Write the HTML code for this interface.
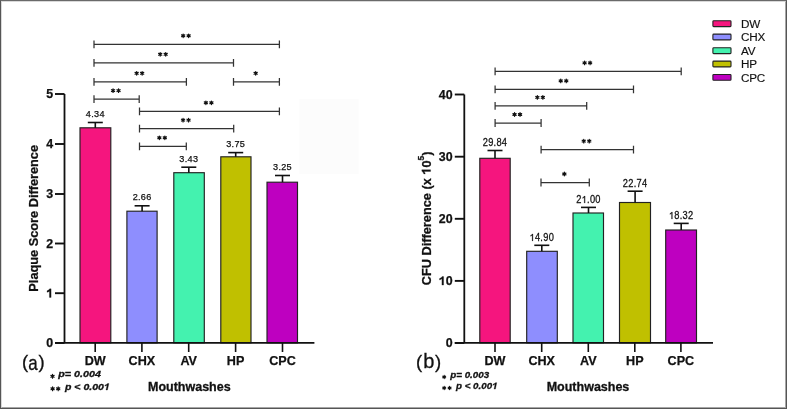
<!DOCTYPE html><html><head><meta charset="utf-8"><style>
html,body{margin:0;padding:0;background:#fff;}
body{width:787px;height:409px;overflow:hidden;position:relative;}
svg{position:absolute;left:0;top:0;display:block;will-change:transform;}
text{font-family:"Liberation Sans",sans-serif;fill:#111;}
.tk{font-weight:bold;font-size:12.4px;stroke:#111;stroke-width:0.25px;}
.val{font-size:9.1px;letter-spacing:0.3px;fill:#111;stroke:#111;stroke-width:0.25px;}
.xl{font-weight:bold;font-size:12.6px;stroke:#111;stroke-width:0.25px;}
.st{font-weight:bold;font-size:11.5px;letter-spacing:0.9px;stroke:#111;stroke-width:0.6px;stroke-linejoin:round;}
.yt{font-weight:bold;font-size:12.75px;stroke:#111;stroke-width:0.25px;}
.ml{font-weight:bold;font-size:12.5px;stroke:#111;stroke-width:0.3px;}
.pv{font-weight:bold;font-style:italic;font-size:9.4px;stroke:#111;stroke-width:0.3px;}
.pvs{font-weight:bold;font-size:11px;stroke:#111;stroke-width:0.4px;}
.lab{font-size:18.5px;stroke:#111;stroke-width:0.3px;}
.labl{font-size:20px;stroke:#111;stroke-width:0.3px;}
.lg{font-size:11.7px;letter-spacing:-0.25px;stroke:#111;stroke-width:0.15px;}
</style></head><body>
<svg width="787" height="409" viewBox="0 0 787 409">
<rect x="0" y="0" width="787" height="409" fill="#fff"/>
<rect x="299.5" y="98.8" width="59" height="75.4" fill="#fcfcfc"/>
<rect x="80.00" y="127.80" width="30.80" height="215.00" fill="#F5157E" stroke="#222" stroke-width="1.15"/>
<line x1="95.3" y1="122.5" x2="95.3" y2="127.8" stroke="#111" stroke-width="1.6"/>
<line x1="87.8" y1="122.5" x2="102.8" y2="122.5" stroke="#111" stroke-width="1.6"/>
<text transform="translate(95.3,117.10) scale(1.0,1)" class="val" style="font-size:9.1px" text-anchor="middle">4.34</text>
<rect x="126.90" y="211.20" width="30.20" height="131.60" fill="#8E8EFE" stroke="#222" stroke-width="1.15"/>
<line x1="142.1" y1="205.8" x2="142.1" y2="211.2" stroke="#111" stroke-width="1.6"/>
<line x1="134.6" y1="205.8" x2="149.6" y2="205.8" stroke="#111" stroke-width="1.6"/>
<text transform="translate(142.1,200.40) scale(1.0,1)" class="val" style="font-size:9.1px" text-anchor="middle">2.66</text>
<rect x="173.80" y="172.70" width="30.50" height="170.10" fill="#44F2AF" stroke="#222" stroke-width="1.15"/>
<line x1="188.8" y1="167.2" x2="188.8" y2="172.7" stroke="#111" stroke-width="1.6"/>
<line x1="181.3" y1="167.2" x2="196.3" y2="167.2" stroke="#111" stroke-width="1.6"/>
<text transform="translate(188.8,161.80) scale(1.0,1)" class="val" style="font-size:9.1px" text-anchor="middle">3.43</text>
<rect x="220.80" y="156.80" width="30.20" height="186.00" fill="#C0C000" stroke="#222" stroke-width="1.15"/>
<line x1="235.7" y1="152.6" x2="235.7" y2="156.8" stroke="#111" stroke-width="1.6"/>
<line x1="228.2" y1="152.6" x2="243.2" y2="152.6" stroke="#111" stroke-width="1.6"/>
<text transform="translate(235.7,147.20) scale(1.0,1)" class="val" style="font-size:9.1px" text-anchor="middle">3.75</text>
<rect x="267.00" y="182.20" width="30.50" height="160.60" fill="#BE00C0" stroke="#222" stroke-width="1.15"/>
<line x1="282.5" y1="175.5" x2="282.5" y2="182.2" stroke="#111" stroke-width="1.6"/>
<line x1="275.0" y1="175.5" x2="290.0" y2="175.5" stroke="#111" stroke-width="1.6"/>
<text transform="translate(282.5,170.10) scale(1.0,1)" class="val" style="font-size:9.1px" text-anchor="middle">3.25</text>
<line x1="64.5" y1="94" x2="64.5" y2="342.8" stroke="#111" stroke-width="1.8"/>
<line x1="55.0" y1="342.8" x2="314.4" y2="342.8" stroke="#111" stroke-width="1.8"/>
<line x1="55.0" y1="94" x2="64.5" y2="94" stroke="#111" stroke-width="1.9"/>
<text x="53.2" y="98.20" class="tk" text-anchor="end">5</text>
<line x1="55.0" y1="144" x2="64.5" y2="144" stroke="#111" stroke-width="1.9"/>
<text x="53.2" y="148.20" class="tk" text-anchor="end">4</text>
<line x1="55.0" y1="194" x2="64.5" y2="194" stroke="#111" stroke-width="1.9"/>
<text x="53.2" y="198.20" class="tk" text-anchor="end">3</text>
<line x1="55.0" y1="243.5" x2="64.5" y2="243.5" stroke="#111" stroke-width="1.9"/>
<text x="53.2" y="247.70" class="tk" text-anchor="end">2</text>
<line x1="55.0" y1="293.2" x2="64.5" y2="293.2" stroke="#111" stroke-width="1.9"/>
<text x="53.2" y="297.40" class="tk" text-anchor="end"> </text>
<path transform="translate(46.294,297.400) scale(0.006055)" d="M795 0L514 0L514 -1030Q340 -900 120 -850L120 -1090Q300 -1150 420 -1260Q510 -1340 545 -1409L795 -1409Z" fill="#111" stroke="#111" stroke-width="41.3"/>
<line x1="55.0" y1="343" x2="64.5" y2="343" stroke="#111" stroke-width="1.9"/>
<text x="53.2" y="347.20" class="tk" text-anchor="end">0</text>
<line x1="95.2" y1="342.8" x2="95.2" y2="352" stroke="#111" stroke-width="1.6"/>
<text x="95.2" y="365.2" class="xl" text-anchor="middle">DW</text>
<line x1="141.9" y1="342.8" x2="141.9" y2="352" stroke="#111" stroke-width="1.6"/>
<text x="141.9" y="365.2" class="xl" text-anchor="middle">CHX</text>
<line x1="188.7" y1="342.8" x2="188.7" y2="352" stroke="#111" stroke-width="1.6"/>
<text x="188.7" y="365.2" class="xl" text-anchor="middle">AV</text>
<line x1="235.6" y1="342.8" x2="235.6" y2="352" stroke="#111" stroke-width="1.6"/>
<text x="235.6" y="365.2" class="xl" text-anchor="middle">HP</text>
<line x1="282.5" y1="342.8" x2="282.5" y2="352" stroke="#111" stroke-width="1.6"/>
<text x="282.5" y="365.2" class="xl" text-anchor="middle">CPC</text>
<path d="M94 44.3H279.4M94 40.4V48.199999999999996M279.4 40.4V48.199999999999996" stroke="#333" stroke-width="1.25" fill="none"/>
<path d="M183.15 34.00L183.15 37.60M181.59 34.90L184.71 36.70M184.71 34.90L181.59 36.70" stroke="#111" stroke-width="1.25" stroke-linecap="round"/><circle cx="183.15" cy="35.80" r="1.05" fill="#111"/>
<path d="M188.65 34.00L188.65 37.60M187.09 34.90L190.21 36.70M190.21 34.90L187.09 36.70" stroke="#111" stroke-width="1.25" stroke-linecap="round"/><circle cx="188.65" cy="35.80" r="1.05" fill="#111"/>
<path d="M94 62.8H233.5M94 58.9V66.7M233.5 58.9V66.7" stroke="#333" stroke-width="1.25" fill="none"/>
<path d="M160.20 52.50L160.20 56.10M158.64 53.40L161.76 55.20M161.76 53.40L158.64 55.20" stroke="#111" stroke-width="1.25" stroke-linecap="round"/><circle cx="160.20" cy="54.30" r="1.05" fill="#111"/>
<path d="M165.70 52.50L165.70 56.10M164.14 53.40L167.26 55.20M167.26 53.40L164.14 55.20" stroke="#111" stroke-width="1.25" stroke-linecap="round"/><circle cx="165.70" cy="54.30" r="1.05" fill="#111"/>
<path d="M94 81.8H186.4M94 77.89999999999999V85.7M186.4 77.89999999999999V85.7" stroke="#333" stroke-width="1.25" fill="none"/>
<path d="M136.65 71.50L136.65 75.10M135.09 72.40L138.21 74.20M138.21 72.40L135.09 74.20" stroke="#111" stroke-width="1.25" stroke-linecap="round"/><circle cx="136.65" cy="73.30" r="1.05" fill="#111"/>
<path d="M142.15 71.50L142.15 75.10M140.59 72.40L143.71 74.20M143.71 72.40L140.59 74.20" stroke="#111" stroke-width="1.25" stroke-linecap="round"/><circle cx="142.15" cy="73.30" r="1.05" fill="#111"/>
<path d="M233.5 81.8H279.4M233.5 77.89999999999999V85.7M279.4 77.89999999999999V85.7" stroke="#333" stroke-width="1.25" fill="none"/>
<path d="M255.65 71.50L255.65 75.10M254.09 72.40L257.21 74.20M257.21 72.40L254.09 74.20" stroke="#111" stroke-width="1.25" stroke-linecap="round"/><circle cx="255.65" cy="73.30" r="1.05" fill="#111"/>
<path d="M94 99.1H139.2M94 95.19999999999999V103.0M139.2 95.19999999999999V103.0" stroke="#333" stroke-width="1.25" fill="none"/>
<path d="M113.05 88.80L113.05 92.40M111.49 89.70L114.61 91.50M114.61 89.70L111.49 91.50" stroke="#111" stroke-width="1.25" stroke-linecap="round"/><circle cx="113.05" cy="90.60" r="1.05" fill="#111"/>
<path d="M118.55 88.80L118.55 92.40M116.99 89.70L120.11 91.50M120.11 89.70L116.99 91.50" stroke="#111" stroke-width="1.25" stroke-linecap="round"/><circle cx="118.55" cy="90.60" r="1.05" fill="#111"/>
<path d="M139.5 111.3H279.4M139.5 107.39999999999999V115.2M279.4 107.39999999999999V115.2" stroke="#333" stroke-width="1.25" fill="none"/>
<path d="M205.90 101.00L205.90 104.60M204.34 101.90L207.46 103.70M207.46 101.90L204.34 103.70" stroke="#111" stroke-width="1.25" stroke-linecap="round"/><circle cx="205.90" cy="102.80" r="1.05" fill="#111"/>
<path d="M211.40 101.00L211.40 104.60M209.84 101.90L212.96 103.70M212.96 101.90L209.84 103.70" stroke="#111" stroke-width="1.25" stroke-linecap="round"/><circle cx="211.40" cy="102.80" r="1.05" fill="#111"/>
<path d="M139.5 128.6H233.7M139.5 124.69999999999999V132.5M233.7 124.69999999999999V132.5" stroke="#333" stroke-width="1.25" fill="none"/>
<path d="M183.05 118.30L183.05 121.90M181.49 119.20L184.61 121.00M184.61 119.20L181.49 121.00" stroke="#111" stroke-width="1.25" stroke-linecap="round"/><circle cx="183.05" cy="120.10" r="1.05" fill="#111"/>
<path d="M188.55 118.30L188.55 121.90M186.99 119.20L190.11 121.00M190.11 119.20L186.99 121.00" stroke="#111" stroke-width="1.25" stroke-linecap="round"/><circle cx="188.55" cy="120.10" r="1.05" fill="#111"/>
<path d="M139.5 146.3H186.3M139.5 142.4V150.20000000000002M186.3 142.4V150.20000000000002" stroke="#333" stroke-width="1.25" fill="none"/>
<path d="M159.35 136.00L159.35 139.60M157.79 136.90L160.91 138.70M160.91 136.90L157.79 138.70" stroke="#111" stroke-width="1.25" stroke-linecap="round"/><circle cx="159.35" cy="137.80" r="1.05" fill="#111"/>
<path d="M164.85 136.00L164.85 139.60M163.29 136.90L166.41 138.70M166.41 136.90L163.29 138.70" stroke="#111" stroke-width="1.25" stroke-linecap="round"/><circle cx="164.85" cy="137.80" r="1.05" fill="#111"/>
<rect x="479.80" y="158.30" width="30.40" height="184.50" fill="#F5157E" stroke="#222" stroke-width="1.15"/>
<line x1="495.0" y1="150.5" x2="495.0" y2="158.3" stroke="#111" stroke-width="1.6"/>
<line x1="487.5" y1="150.5" x2="502.5" y2="150.5" stroke="#111" stroke-width="1.6"/>
<text transform="translate(495.0,146.10) scale(0.92,1)" class="val" style="font-size:10.1px" text-anchor="middle">29.84</text>
<rect x="526.70" y="251.30" width="30.60" height="91.50" fill="#8E8EFE" stroke="#222" stroke-width="1.15"/>
<line x1="541.8" y1="245.3" x2="541.8" y2="251.3" stroke="#111" stroke-width="1.6"/>
<line x1="534.3" y1="245.3" x2="549.3" y2="245.3" stroke="#111" stroke-width="1.6"/>
<text transform="translate(541.8,240.90) scale(0.92,1)" class="val" style="font-size:10.1px" text-anchor="middle"> 4.90</text>
<path transform="translate(541.8,240.90) scale(0.92,1) translate(-13.367,0.000) scale(0.004932)" d="M763 0L583 0L583 -1147Q470 -1040 223 -930L223 -1100Q400 -1190 520 -1300Q580 -1360 610 -1409L763 -1409Z" fill="#111" stroke="#111" stroke-width="50.7"/>
<rect x="573.00" y="213.00" width="30.50" height="129.80" fill="#44F2AF" stroke="#222" stroke-width="1.15"/>
<line x1="588.5" y1="207.4" x2="588.5" y2="213.0" stroke="#111" stroke-width="1.6"/>
<line x1="581.0" y1="207.4" x2="596.0" y2="207.4" stroke="#111" stroke-width="1.6"/>
<text transform="translate(588.5,203.00) scale(0.92,1)" class="val" style="font-size:10.1px" text-anchor="middle">2 .00</text>
<path transform="translate(588.5,203.00) scale(0.92,1) translate(-7.464,0.000) scale(0.004932)" d="M763 0L583 0L583 -1147Q470 -1040 223 -930L223 -1100Q400 -1190 520 -1300Q580 -1360 610 -1409L763 -1409Z" fill="#111" stroke="#111" stroke-width="50.7"/>
<rect x="619.50" y="202.50" width="31.00" height="140.30" fill="#C0C000" stroke="#222" stroke-width="1.15"/>
<line x1="635.1" y1="191.2" x2="635.1" y2="202.5" stroke="#111" stroke-width="1.6"/>
<line x1="627.6" y1="191.2" x2="642.6" y2="191.2" stroke="#111" stroke-width="1.6"/>
<text transform="translate(635.1,186.80) scale(0.92,1)" class="val" style="font-size:10.1px" text-anchor="middle">22.74</text>
<rect x="665.70" y="230.00" width="30.80" height="112.80" fill="#BE00C0" stroke="#222" stroke-width="1.15"/>
<line x1="681.2" y1="223.4" x2="681.2" y2="230.0" stroke="#111" stroke-width="1.6"/>
<line x1="673.7" y1="223.4" x2="688.7" y2="223.4" stroke="#111" stroke-width="1.6"/>
<text transform="translate(681.2,219.00) scale(0.92,1)" class="val" style="font-size:10.1px" text-anchor="middle"> 8.32</text>
<path transform="translate(681.2,219.00) scale(0.92,1) translate(-13.367,0.000) scale(0.004932)" d="M763 0L583 0L583 -1147Q470 -1040 223 -930L223 -1100Q400 -1190 520 -1300Q580 -1360 610 -1409L763 -1409Z" fill="#111" stroke="#111" stroke-width="50.7"/>
<line x1="464.3" y1="94.5" x2="464.3" y2="342.8" stroke="#111" stroke-width="1.8"/>
<line x1="454.8" y1="342.8" x2="713" y2="342.8" stroke="#111" stroke-width="1.8"/>
<line x1="454.8" y1="94.5" x2="464.3" y2="94.5" stroke="#111" stroke-width="1.9"/>
<text x="452.6" y="98.70" class="tk" text-anchor="end">40</text>
<line x1="454.8" y1="156.7" x2="464.3" y2="156.7" stroke="#111" stroke-width="1.9"/>
<text x="452.6" y="160.90" class="tk" text-anchor="end">30</text>
<line x1="454.8" y1="218.8" x2="464.3" y2="218.8" stroke="#111" stroke-width="1.9"/>
<text x="452.6" y="223.00" class="tk" text-anchor="end">20</text>
<line x1="454.8" y1="280.9" x2="464.3" y2="280.9" stroke="#111" stroke-width="1.9"/>
<text x="452.6" y="285.10" class="tk" text-anchor="end"> 0</text>
<path transform="translate(438.803,285.100) scale(0.006055)" d="M795 0L514 0L514 -1030Q340 -900 120 -850L120 -1090Q300 -1150 420 -1260Q510 -1340 545 -1409L795 -1409Z" fill="#111" stroke="#111" stroke-width="41.3"/>
<line x1="454.8" y1="343" x2="464.3" y2="343" stroke="#111" stroke-width="1.9"/>
<text x="452.6" y="347.20" class="tk" text-anchor="end">0</text>
<line x1="495.0" y1="342.8" x2="495.0" y2="352" stroke="#111" stroke-width="1.6"/>
<text x="495.0" y="365.2" class="xl" text-anchor="middle">DW</text>
<line x1="541.7" y1="342.8" x2="541.7" y2="352" stroke="#111" stroke-width="1.6"/>
<text x="541.7" y="365.2" class="xl" text-anchor="middle">CHX</text>
<line x1="588.3" y1="342.8" x2="588.3" y2="352" stroke="#111" stroke-width="1.6"/>
<text x="588.3" y="365.2" class="xl" text-anchor="middle">AV</text>
<line x1="634.8" y1="342.8" x2="634.8" y2="352" stroke="#111" stroke-width="1.6"/>
<text x="634.8" y="365.2" class="xl" text-anchor="middle">HP</text>
<line x1="680.9" y1="342.8" x2="680.9" y2="352" stroke="#111" stroke-width="1.6"/>
<text x="680.9" y="365.2" class="xl" text-anchor="middle">CPC</text>
<path d="M495.1 71.4H681.2M495.1 67.5V75.30000000000001M681.2 67.5V75.30000000000001" stroke="#333" stroke-width="1.25" fill="none"/>
<path d="M584.60 61.10L584.60 64.70M583.04 62.00L586.16 63.80M586.16 62.00L583.04 63.80" stroke="#111" stroke-width="1.25" stroke-linecap="round"/><circle cx="584.60" cy="62.90" r="1.05" fill="#111"/>
<path d="M590.10 61.10L590.10 64.70M588.54 62.00L591.66 63.80M591.66 62.00L588.54 63.80" stroke="#111" stroke-width="1.25" stroke-linecap="round"/><circle cx="590.10" cy="62.90" r="1.05" fill="#111"/>
<path d="M495.1 89.4H633.5M495.1 85.5V93.30000000000001M633.5 85.5V93.30000000000001" stroke="#333" stroke-width="1.25" fill="none"/>
<path d="M560.75 79.10L560.75 82.70M559.19 80.00L562.31 81.80M562.31 80.00L559.19 81.80" stroke="#111" stroke-width="1.25" stroke-linecap="round"/><circle cx="560.75" cy="80.90" r="1.05" fill="#111"/>
<path d="M566.25 79.10L566.25 82.70M564.69 80.00L567.81 81.80M567.81 80.00L564.69 81.80" stroke="#111" stroke-width="1.25" stroke-linecap="round"/><circle cx="566.25" cy="80.90" r="1.05" fill="#111"/>
<path d="M495.1 105.9H586.7M495.1 102.0V109.80000000000001M586.7 102.0V109.80000000000001" stroke="#333" stroke-width="1.25" fill="none"/>
<path d="M537.35 95.60L537.35 99.20M535.79 96.50L538.91 98.30M538.91 96.50L535.79 98.30" stroke="#111" stroke-width="1.25" stroke-linecap="round"/><circle cx="537.35" cy="97.40" r="1.05" fill="#111"/>
<path d="M542.85 95.60L542.85 99.20M541.29 96.50L544.41 98.30M544.41 96.50L541.29 98.30" stroke="#111" stroke-width="1.25" stroke-linecap="round"/><circle cx="542.85" cy="97.40" r="1.05" fill="#111"/>
<path d="M495.1 123.0H541.1M495.1 119.1V126.9M541.1 119.1V126.9" stroke="#333" stroke-width="1.25" fill="none"/>
<path d="M514.55 112.70L514.55 116.30M512.99 113.60L516.11 115.40M516.11 113.60L512.99 115.40" stroke="#111" stroke-width="1.25" stroke-linecap="round"/><circle cx="514.55" cy="114.50" r="1.05" fill="#111"/>
<path d="M520.05 112.70L520.05 116.30M518.49 113.60L521.61 115.40M521.61 113.60L518.49 115.40" stroke="#111" stroke-width="1.25" stroke-linecap="round"/><circle cx="520.05" cy="114.50" r="1.05" fill="#111"/>
<path d="M541.1 149.6H633.5M541.1 145.7V153.5M633.5 145.7V153.5" stroke="#333" stroke-width="1.25" fill="none"/>
<path d="M583.75 139.30L583.75 142.90M582.19 140.20L585.31 142.00M585.31 140.20L582.19 142.00" stroke="#111" stroke-width="1.25" stroke-linecap="round"/><circle cx="583.75" cy="141.10" r="1.05" fill="#111"/>
<path d="M589.25 139.30L589.25 142.90M587.69 140.20L590.81 142.00M590.81 140.20L587.69 142.00" stroke="#111" stroke-width="1.25" stroke-linecap="round"/><circle cx="589.25" cy="141.10" r="1.05" fill="#111"/>
<path d="M541.0 182.5H589.3M541.0 178.6V186.4M589.3 178.6V186.4" stroke="#333" stroke-width="1.25" fill="none"/>
<path d="M564.35 172.20L564.35 175.80M562.79 173.10L565.91 174.90M565.91 173.10L562.79 174.90" stroke="#111" stroke-width="1.25" stroke-linecap="round"/><circle cx="564.35" cy="174.00" r="1.05" fill="#111"/>
<text class="yt" transform="translate(38.2,218.3) rotate(-90)" text-anchor="middle">Plaque Score Difference</text>
<text transform="translate(430.6,218.3) rotate(-90)" class="yt" text-anchor="middle">CFU Difference (x  0<tspan style="font-size:8.7px" dy="-6.5">5</tspan><tspan dy="6.5">)</tspan></text>
<path transform="translate(430.6,218.3) rotate(-90) translate(43.609,0.000) scale(0.006226)" d="M795 0L514 0L514 -1030Q340 -900 120 -850L120 -1090Q300 -1150 420 -1260Q510 -1340 545 -1409L795 -1409Z" fill="#111" stroke="#111" stroke-width="40.2"/>
<text class="ml" x="189.3" y="390.8" text-anchor="middle">Mouthwashes</text>
<text class="ml" x="588" y="390.8" text-anchor="middle">Mouthwashes</text>
<text class="lab" x="25.0" y="368.3" text-anchor="middle">(</text>
<text class="lab" x="41.7" y="368.3" text-anchor="middle">)</text>
<text class="labl" transform="translate(32.9,369.6) scale(0.85,1)" text-anchor="middle">a</text>
<text class="lab" x="419.2" y="367.6" text-anchor="middle">(</text>
<text class="lab" x="438.0" y="367.6" text-anchor="middle">)</text>
<text class="labl" transform="translate(428.7,368.4) scale(1.0,1)" text-anchor="middle">b</text>
<path d="M52.50 374.45L52.50 378.15M50.90 375.38L54.10 377.23M54.10 375.38L50.90 377.23" stroke="#111" stroke-width="1.2" stroke-linecap="round"/><circle cx="52.50" cy="376.30" r="1.05" fill="#111"/>
<text transform="translate(58.3,377.2) scale(1.14,1)" class="pv">p= 0.004</text>
<path d="M52.60 386.95L52.60 390.65M51.00 387.88L54.20 389.73M54.20 387.88L51.00 389.73" stroke="#111" stroke-width="1.2" stroke-linecap="round"/><circle cx="52.60" cy="388.80" r="1.05" fill="#111"/>
<path d="M58.20 386.95L58.20 390.65M56.60 387.88L59.80 389.73M59.80 387.88L56.60 389.73" stroke="#111" stroke-width="1.2" stroke-linecap="round"/><circle cx="58.20" cy="388.80" r="1.05" fill="#111"/>
<text transform="translate(65.0,390.0) scale(1.12,1)" class="pv">p &lt; 0.00 </text>
<path transform="translate(65.0,390.0) scale(1.12,1) translate(34.703,0.000) scale(0.004590)" d="M697 0L416 0L617 -1030Q418 -900 188 -850L235 -1090Q426 -1150 568 -1260Q673 -1340 722 -1409L972 -1409Z" fill="#111" stroke="#111" stroke-width="65.4"/>
<path d="M444.20 375.40L444.20 378.60M442.81 376.20L445.59 377.80M445.59 376.20L442.81 377.80" stroke="#111" stroke-width="1.2" stroke-linecap="round"/><circle cx="444.20" cy="377.00" r="1.05" fill="#111"/>
<text transform="translate(450.3,378.4) scale(1.04,1)" class="pv">p= 0.003</text>
<path d="M444.20 386.40L444.20 389.60M442.81 387.20L445.59 388.80M445.59 387.20L442.81 388.80" stroke="#111" stroke-width="1.2" stroke-linecap="round"/><circle cx="444.20" cy="388.00" r="1.05" fill="#111"/>
<path d="M449.60 386.40L449.60 389.60M448.21 387.20L450.99 388.80M450.99 387.20L448.21 388.80" stroke="#111" stroke-width="1.2" stroke-linecap="round"/><circle cx="449.60" cy="388.00" r="1.05" fill="#111"/>
<text transform="translate(456.0,389.1) scale(1.04,1)" class="pv">p &lt; 0.00 </text>
<path transform="translate(456.0,389.1) scale(1.04,1) translate(34.705,0.000) scale(0.004590)" d="M697 0L416 0L617 -1030Q418 -900 188 -850L235 -1090Q426 -1150 568 -1260Q673 -1340 722 -1409L972 -1409Z" fill="#111" stroke="#111" stroke-width="65.4"/>
<rect x="712.9" y="20.80" width="18.1" height="5.8" rx="0.8" fill="#F5157E" stroke="#222" stroke-width="1.1"/>
<text class="lg" x="741.0" y="27.90">DW</text>
<rect x="712.9" y="34.10" width="18.1" height="5.8" rx="0.8" fill="#8E8EFE" stroke="#222" stroke-width="1.1"/>
<text class="lg" x="741.0" y="41.20">CHX</text>
<rect x="712.9" y="47.80" width="18.1" height="5.8" rx="0.8" fill="#44F2AF" stroke="#222" stroke-width="1.1"/>
<text class="lg" x="741.0" y="54.90">AV</text>
<rect x="712.9" y="61.10" width="18.1" height="5.8" rx="0.8" fill="#C0C000" stroke="#222" stroke-width="1.1"/>
<text class="lg" x="741.0" y="68.20">HP</text>
<rect x="712.9" y="74.50" width="18.1" height="5.8" rx="0.8" fill="#BE00C0" stroke="#222" stroke-width="1.1"/>
<text class="lg" x="741.0" y="81.60">CPC</text>
</svg>
<div style="position:absolute;left:0;top:0;width:785px;height:407px;border:1px solid #555;border-top-color:#6a6a6a;"></div>
<div style="position:absolute;left:1px;top:1px;width:783px;height:405px;border:1px solid rgba(0,0,0,0.15);border-right-color:rgba(0,0,0,0.35);border-bottom-color:rgba(0,0,0,0.35);"></div>
</body></html>
